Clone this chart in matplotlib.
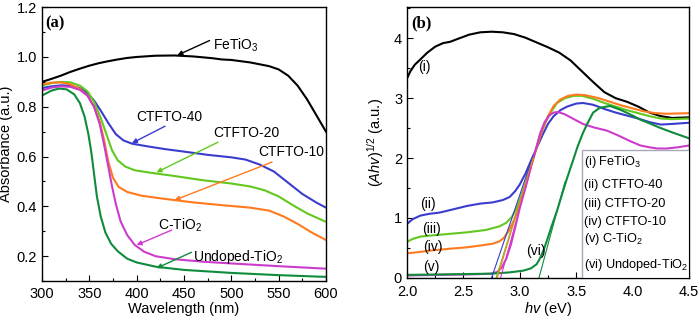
import matplotlib
matplotlib.use("Agg")
import matplotlib.pyplot as plt
from matplotlib.ticker import MultipleLocator
from matplotlib.patches import Rectangle

plt.rcParams['font.family'] = ['Liberation Sans', 'DejaVu Sans']
plt.rcParams['mathtext.fontset'] = 'custom'
plt.rcParams['mathtext.rm'] = 'Liberation Sans'
plt.rcParams['mathtext.it'] = 'Liberation Sans:italic'
plt.rcParams['axes.linewidth'] = 1.0

# colours of the six samples
c_fe = 'black'
c_40 = '#3a3ccc'
c_20 = '#62c81e'
c_10 = '#ff7a1e'
c_c = '#cc3ccc'
c_un = '#0e8c3c'

# ---- panel (a): absorbance vs wavelength ----
wl_fe = [300, 310, 320, 330, 340, 350, 360, 370, 380, 390, 400, 420, 440, 460, 480,
         490, 500, 520, 540, 550, 560, 570, 580, 590, 600]
ab_fe = [0.90, 0.912, 0.925, 0.94, 0.953, 0.965, 0.975, 0.983, 0.99, 0.996, 1.0, 1.005,
         1.006, 1.002, 0.995, 0.99, 0.988, 0.978, 0.963, 0.95, 0.925, 0.885, 0.83, 0.765, 0.70]

wl_40 = [300, 310, 320, 330, 340, 348, 355, 362, 370, 378, 386, 395, 410, 430, 450,
         475, 500, 515, 530, 545, 560, 575, 590, 600]
ab_40 = [0.875, 0.882, 0.886, 0.885, 0.875, 0.855, 0.825, 0.785, 0.735, 0.69, 0.665,
         0.652, 0.642, 0.63, 0.62, 0.607, 0.597, 0.588, 0.568, 0.54, 0.495, 0.45, 0.415, 0.395]

wl_20 = [300, 310, 320, 330, 340, 348, 355, 362, 368, 374, 380, 388, 398, 415, 440,
         470, 500, 520, 535, 550, 565, 580, 600]
ab_20 = [0.885, 0.895, 0.9, 0.898, 0.885, 0.862, 0.82, 0.755, 0.69, 0.625, 0.585, 0.56,
         0.545, 0.535, 0.522, 0.505, 0.492, 0.48, 0.465, 0.44, 0.405, 0.372, 0.338]

wl_10 = [300, 310, 320, 330, 340, 348, 355, 361, 366, 370, 375, 381, 390, 405, 430,
         460, 490, 520, 540, 555, 570, 585, 600]
ab_10 = [0.89, 0.897, 0.898, 0.89, 0.872, 0.845, 0.80, 0.74, 0.66, 0.58, 0.515, 0.478,
         0.458, 0.443, 0.43, 0.416, 0.405, 0.395, 0.383, 0.36, 0.33, 0.295, 0.265]

wl_c = [300, 310, 320, 330, 340, 348, 355, 361, 366, 370, 374, 378, 383, 390, 398,
        408, 420, 440, 470, 500, 550, 600]
ab_c = [0.865, 0.877, 0.882, 0.88, 0.868, 0.845, 0.80, 0.73, 0.64, 0.56, 0.48, 0.41,
        0.34, 0.285, 0.245, 0.218, 0.2, 0.188, 0.178, 0.171, 0.16, 0.15]

wl_un = [300, 310, 318, 326, 334, 340, 345, 349, 352, 355, 358, 362, 367, 373, 380,
         390, 400, 420, 450, 500, 550, 600]
ab_un = [0.845, 0.865, 0.873, 0.87, 0.85, 0.815, 0.76, 0.69, 0.62, 0.53, 0.44, 0.36,
         0.295, 0.25, 0.22, 0.19, 0.175, 0.158, 0.145, 0.133, 0.124, 0.117]

# labels of panel (a): text, text position, arrow tail, arrow tip
names_a = ['FeTiO$_3$', 'CTFTO-40', 'CTFTO-20', 'CTFTO-10', 'C-TiO$_2$', 'Undoped-TiO$_2$']
text_xy = [(481, 1.045), (400, 0.758), (481, 0.694), (528, 0.618), (423, 0.325), (460, 0.196)]
tail_xy = [(477, 1.066), (430, 0.722), (486, 0.658), (543, 0.578), (437, 0.305), (458, 0.216)]
tip_xy = [(443, 1.007), (395, 0.654), (421, 0.537), (440, 0.425), (400, 0.245), (421, 0.152)]

# ---- panel (b): Tauc plot ----
hv_fe = [2.0, 2.03, 2.07, 2.12, 2.18, 2.25, 2.32, 2.38, 2.45, 2.55, 2.65, 2.75, 2.85,
         2.95, 3.05, 3.15, 3.25, 3.35, 3.45, 3.55, 3.65, 3.75, 3.85, 3.95, 4.05, 4.15,
         4.25, 4.35, 4.5]
t_fe = [3.33, 3.45, 3.56, 3.65, 3.76, 3.86, 3.92, 3.94, 3.99, 4.06, 4.1, 4.11, 4.1,
        4.07, 4.01, 3.93, 3.85, 3.76, 3.63, 3.45, 3.27, 3.1, 3.0, 2.94, 2.86, 2.76,
        2.7, 2.67, 2.68]

hv_40 = [2.0, 2.05, 2.12, 2.2, 2.29, 2.4, 2.53, 2.65, 2.76, 2.85, 2.91, 2.96, 3.0,
         3.05, 3.1, 3.15, 3.2, 3.25, 3.3, 3.36, 3.42, 3.5, 3.56, 3.65, 3.75, 3.85,
         3.95, 4.05, 4.15, 4.25, 4.35, 4.5]
t_40 = [0.9, 0.98, 1.04, 1.07, 1.09, 1.14, 1.2, 1.24, 1.26, 1.3, 1.35, 1.45, 1.56,
        1.74, 1.96, 2.17, 2.38, 2.57, 2.7, 2.8, 2.86, 2.91, 2.92, 2.89, 2.82, 2.76,
        2.71, 2.66, 2.6, 2.56, 2.57, 2.59]

hv_20 = [2.0, 2.05, 2.12, 2.23, 2.35, 2.53, 2.7, 2.82, 2.88, 2.93, 2.97, 3.0, 3.05,
         3.09, 3.14, 3.18, 3.23, 3.28, 3.33, 3.4, 3.48, 3.55, 3.65, 3.75, 3.85, 3.95,
         4.05, 4.15, 4.25, 4.35, 4.5]
t_20 = [0.6, 0.65, 0.69, 0.71, 0.73, 0.76, 0.8, 0.86, 0.92, 1.02, 1.16, 1.3, 1.58,
        1.84, 2.12, 2.38, 2.6, 2.78, 2.92, 3.0, 3.04, 3.04, 2.99, 2.92, 2.86, 2.8,
        2.75, 2.7, 2.66, 2.65, 2.66]

hv_10 = [2.0, 2.1, 2.23, 2.4, 2.53, 2.65, 2.76, 2.82, 2.86, 2.9, 2.94, 2.98, 3.02,
         3.06, 3.1, 3.15, 3.2, 3.25, 3.3, 3.36, 3.43, 3.5, 3.58, 3.7, 3.8, 3.9, 4.0,
         4.1, 4.2, 4.3, 4.5]
t_10 = [0.41, 0.43, 0.46, 0.49, 0.51, 0.54, 0.57, 0.61, 0.67, 0.78, 0.93, 1.12, 1.35,
        1.6, 1.87, 2.18, 2.47, 2.7, 2.87, 2.98, 3.04, 3.06, 3.05, 3.0, 2.94, 2.88,
        2.83, 2.78, 2.75, 2.74, 2.75]

hv_c = [2.0, 2.3, 2.6, 2.75, 2.8, 2.84, 2.88, 2.92, 2.96, 3.0, 3.05, 3.09, 3.14,
        3.18, 3.22, 3.26, 3.3, 3.34, 3.4, 3.47, 3.56, 3.66, 3.77, 3.87, 3.97, 4.07,
        4.15, 4.22, 4.3, 4.4, 4.5]
t_c = [0.04, 0.05, 0.06, 0.07, 0.1, 0.17, 0.32, 0.55, 0.85, 1.17, 1.5, 1.79, 2.13,
       2.41, 2.6, 2.71, 2.76, 2.77, 2.73, 2.66, 2.57, 2.51, 2.46, 2.38, 2.29, 2.21,
       2.18, 2.16, 2.16, 2.18, 2.21]

hv_un = [2.0, 2.4, 2.74, 2.9, 3.03, 3.1, 3.15, 3.18, 3.21, 3.24, 3.28, 3.33, 3.38,
         3.42, 3.47, 3.51, 3.56, 3.6, 3.65, 3.71, 3.8, 3.9, 4.0, 4.07, 4.15, 4.25,
         4.35, 4.5]
t_un = [0.05, 0.06, 0.07, 0.09, 0.12, 0.16, 0.23, 0.33, 0.46, 0.62, 0.85, 1.12, 1.43,
        1.67, 1.95, 2.18, 2.42, 2.58, 2.76, 2.84, 2.87, 2.8, 2.71, 2.64, 2.58, 2.5,
        2.43, 2.33]

# straight band-gap fits: intercept on hv axis, end point
fit_x0 = [2.75, 2.79, 2.80, 2.83, 3.17]
fit_x1 = [3.12, 3.12, 3.12, 3.10, 3.40]
fit_y1 = [2.05, 2.0, 2.0, 1.85, 1.6]
fit_col = [c_40, c_20, c_10, c_c, c_un]

roman = ['(i)', '(ii)', '(iii)', '(iv)', '(v)', '(vi)']
roman_xy = [(2.10, 3.52), (2.12, 1.24), (2.13, 0.82), (2.14, 0.52), (2.14, 0.18), (3.06, 0.45)]
legend_b = ['(i) FeTiO$_3$', '(ii) CTFTO-40', '(iii) CTFTO-20', '(iv) CTFTO-10',
            '(v) C-TiO$_2$', '(vi) Undoped-TiO$_2$']
legend_base = [0.417, 0.332, 0.262, 0.196, 0.133, 0.037]  # baselines, axes fraction

fig = plt.figure(figsize=(7, 3.25), dpi=100)
ax1 = fig.add_axes([0.06, 0.135, 0.4057, 0.843])
ax2 = fig.add_axes([0.5814, 0.145, 0.4029, 0.833])

lw = 1.5
ax1.plot(wl_fe, ab_fe, color=c_fe, lw=lw)
ax1.plot(wl_40, ab_40, color=c_40, lw=lw)
ax1.plot(wl_20, ab_20, color=c_20, lw=lw)
ax1.plot(wl_10, ab_10, color=c_10, lw=lw)
ax1.plot(wl_c, ab_c, color=c_c, lw=lw)
ax1.plot(wl_un, ab_un, color=c_un, lw=lw)

cols = [c_fe, c_40, c_20, c_10, c_c, c_un]
for name, txy, tail, tip, col in zip(names_a, text_xy, tail_xy, tip_xy, cols):
    ax1.text(txy[0], txy[1], name, fontsize=10, va='center', ha='left')
    ax1.annotate('', xy=tip, xytext=tail,
                 arrowprops=dict(arrowstyle='-|>', color=col, lw=1.0,
                                 mutation_scale=7, shrinkA=0, shrinkB=0))

ax1.set_xlim(300, 600)
ax1.set_ylim(0.1, 1.2)
ax1.xaxis.set_major_locator(MultipleLocator(50))
ax1.xaxis.set_minor_locator(MultipleLocator(25))
ax1.yaxis.set_major_locator(MultipleLocator(0.2))
ax1.yaxis.set_minor_locator(MultipleLocator(0.1))
ax1.set_xlabel('Wavelength (nm)', fontsize=10.5, labelpad=1)
ax1.set_ylabel('Absorbance (a.u.)', fontsize=10.5, labelpad=3)
ax1.text(0.012, 0.94, '(a)', transform=ax1.transAxes, fontsize=12,
         fontweight='bold', family='Liberation Serif', va='center')

ax2.plot(hv_fe, t_fe, color=c_fe, lw=lw)
ax2.plot(hv_40, t_40, color=c_40, lw=lw)
ax2.plot(hv_20, t_20, color=c_20, lw=lw)
ax2.plot(hv_10, t_10, color=c_10, lw=lw)
ax2.plot(hv_c, t_c, color=c_c, lw=lw)
ax2.plot(hv_un, t_un, color=c_un, lw=lw)
for x0, x1, y1, col in zip(fit_x0, fit_x1, fit_y1, fit_col):
    ax2.plot([x0, x1], [0, y1], color=col, lw=0.8)

for lab, xy in zip(roman, roman_xy):
    ax2.text(xy[0], xy[1], lab, fontsize=10, va='center', ha='left')

# text-only legend box in the lower right corner
ax2.add_patch(Rectangle((0.62, 0.0), 0.38, 0.472, transform=ax2.transAxes,
                        facecolor='white', edgecolor='#a8a8b8', lw=1.0, zorder=5))
for lab, yb in zip(legend_b, legend_base):
    ax2.text(0.627, yb, lab, transform=ax2.transAxes, fontsize=9.2,
             va='baseline', ha='left', zorder=6)

ax2.set_xlim(2.0, 4.5)
ax2.set_ylim(0, 4.52)
ax2.xaxis.set_major_locator(MultipleLocator(0.5))
ax2.xaxis.set_minor_locator(MultipleLocator(0.25))
ax2.yaxis.set_major_locator(MultipleLocator(1))
ax2.yaxis.set_minor_locator(MultipleLocator(0.5))
ax2.set_xlabel('$hv$ (eV)', fontsize=10.5, labelpad=1)
ax2.set_ylabel('$(Ahv)^{1/2}$ (a.u.)', fontsize=10.5, labelpad=6)
ax2.text(0.015, 0.94, '(b)', transform=ax2.transAxes, fontsize=12,
         fontweight='bold', family='Liberation Serif', va='center')

for ax in (ax1, ax2):
    ax.tick_params(which='both', direction='in', top=False, right=False, labelsize=10.5)
    ax.tick_params(which='major', length=4, width=0.8)
    ax.tick_params(which='minor', length=2, width=0.8)
ax2.tick_params(axis='x', which='major', pad=5)
ax1.tick_params(axis='x', which='major', pad=4)

fig.savefig('out.png', dpi=100)
